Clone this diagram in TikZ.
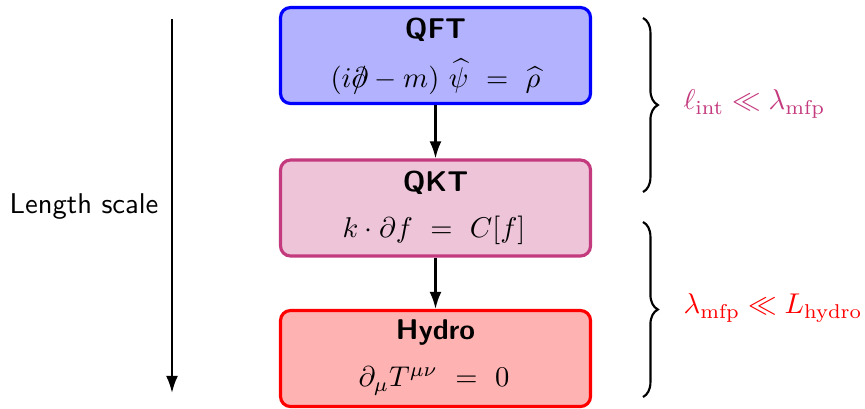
\documentclass[tikz,border=0pt]{standalone}
\usepackage{amsmath,amssymb}
\usetikzlibrary{arrows.meta,decorations.pathreplacing}
\definecolor{qktc}{RGB}{196,58,126}
\newcommand{\dslashed}{\mathord{\ooalign{$\partial$\cr\hidewidth$/$\hidewidth\cr}}}
\tikzset{
  stagebox/.style={draw=#1, fill=#1!30, line width=1.1pt, rounded corners=3.5pt,
    minimum width=108.5pt, minimum height=33.6pt, inner sep=0pt},
  stagetitle/.style={font=\sffamily\bfseries, inner sep=0pt},
  stageeq/.style={inner sep=0pt},
  flow/.style={-{Latex[length=6pt,width=4.2pt]}, line width=0.8pt},
  bracestyle/.style={decorate, decoration={brace, amplitude=5.2pt}, line width=0.75pt},
}
\begin{document}
\begin{tikzpicture}[x=0.35pt,y=-0.35pt]
\useasboundingbox (0,0) rectangle (865,408);
% boxes
\node[stagebox=blue] (qft) at (435.5,55.5) {};
\node[stagebox=qktc] (qkt) at (435.5,208) {};
\node[stagebox=red] (hyd) at (435.5,358.5) {};
% titles and equations
\node[stagetitle] (qftT) at (435.5,30) {QFT};
\node[stageeq] (qftE) at (435.5,77) {$\left(i\dslashed - m\right)\,\widehat{\psi}\ =\ \widehat{\rho}$};
\node[stagetitle] (qktT) at (435.5,183) {QKT};
\node[stageeq] (qktE) at (434,230) {$k\cdot\partial f\ =\ C[f]$};
\node[stagetitle] (hydT) at (435.5,333) {Hydro};
\node[stageeq] (hydE) at (434,381) {$\partial_\mu T^{\mu\nu}\ =\ 0$};
% flow arrows
\draw[flow] (qft.south) -- (qkt.north);
\draw[flow] (qkt.south) -- (hyd.north);
% length scale
\coordinate (lsTop) at (172,19);
\coordinate (lsBot) at (172,393);
\draw[flow] (lsTop) -- (lsBot);
\node[font=\sffamily, anchor=east, inner sep=0pt] (lsLab) at (159,207) {Length scale};
% braces
\coordinate (b1t) at (643,18);
\coordinate (b1b) at (643,192);
\coordinate (b2t) at (643,222);
\coordinate (b2b) at (643,397);
\draw[bracestyle] (b1t) -- (b1b);
\draw[bracestyle] (b2t) -- (b2b);
\node[text=qktc, anchor=west, inner sep=0pt] (l1) at (683,104) {$\ell_{\text{int}}\ll\lambda_{\text{mfp}}$};
\node[text=red, anchor=west, inner sep=0pt] (l2) at (683,308) {$\lambda_{\text{mfp}}\ll L_{\text{hydro}}$};
\end{tikzpicture}
\end{document}
